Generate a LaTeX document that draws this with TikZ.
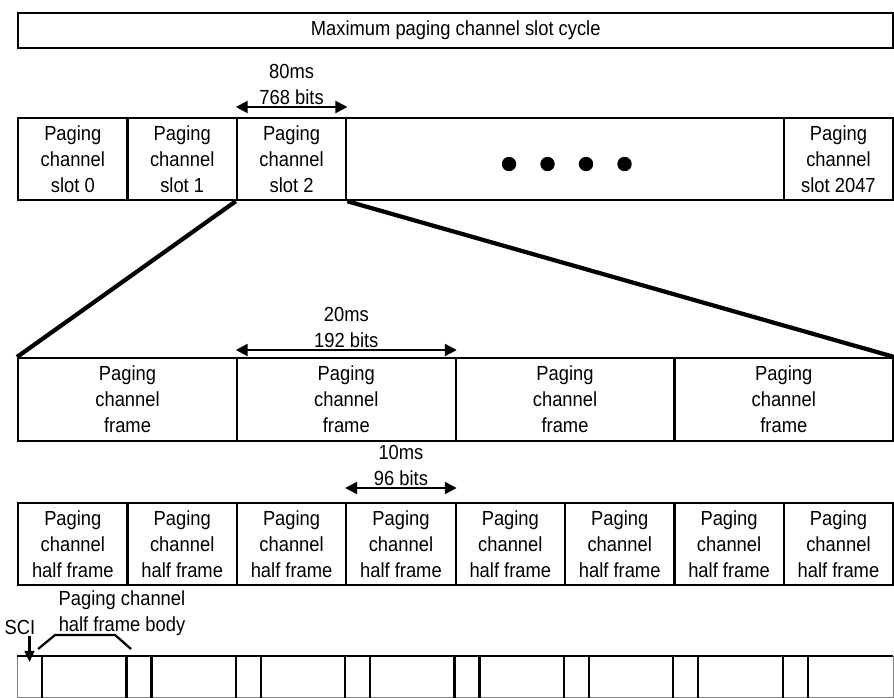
\documentclass[tikz,border=0pt]{standalone}
\usepackage{fontspec}
\setmainfont{Liberation Sans}[FakeStretch=0.9]
\usetikzlibrary{arrows.meta}

\newcommand\cellfont{\fontsize{14.5}{18.5}\selectfont}
\def\colw{2.734375cm}

\tikzset{
  cell/.style={draw, line width=1.6pt, minimum width=\colw, minimum height=2.05cm,
    inner sep=0pt, align=center, anchor=north west, font=\cellfont},
  lbl/.style={inner sep=1pt, align=center, font=\cellfont},
  dim/.style={line width=1.6pt, {Triangle[length=8.5pt,width=8.5pt]}-{Triangle[length=8.5pt,width=8.5pt]}},
  pointer/.style={line width=1.6pt, -{Triangle[length=8pt,width=7pt]}},
  fan/.style={line width=3pt},
  sep/.style={line width=1.6pt},
  slice/.style={inner sep=0pt, minimum height=1.025cm, anchor=north west}
}

\begin{document}
\begin{tikzpicture}[x=0.025cm, y=-0.025cm]
\useasboundingbox (0,0) rectangle (894,697);

% slot cycle
\node[cell, minimum width=21.875cm, minimum height=0.875cm] (cyclebox) at (17,12) {Maximum paging channel slot cycle};

% slots
\foreach \i/\txt in {0/slot 0, 1/slot 1, 2/slot 2}
  \node[cell] (slot\i) at ({17+109.375*\i},117) {Paging\\channel\\\txt};
\node[cell, minimum width=10.9375cm] (slotdots) at (345.125,117) {};
\node[cell] (slotlast) at (782.625,117) {Paging\\channel\\slot 2047};
\foreach \k in {0,...,3}
  \fill ({509+38.5*\k},164) circle (0.18cm);

\draw[dim] ([yshift=0.25cm]slot2.north west) -- ([yshift=0.25cm]slot2.north east)
  node[midway, above, lbl] {80ms\\768 bits};

% frames
\foreach \i in {0,...,3}
  \node[cell, minimum width=5.46875cm, minimum height=2.075cm] (frame\i) at ({17+218.75*\i},357) {Paging\\channel\\frame};
\draw[fan] (slot2.south west) -- (frame0.north west);
\draw[fan] (slot2.south east) -- (frame3.north east);

\draw[dim] ([yshift=0.175cm]frame1.north west) -- ([yshift=0.175cm]frame1.north east)
  node[midway, above, lbl] {20ms\\192 bits};

% half frames
\foreach \i in {0,...,7}
  \node[cell] (half\i) at ({17+109.375*\i},502) {Paging\\channel\\half frame};

\draw[dim] ([yshift=0.35cm]half3.north west) -- ([yshift=0.35cm]half3.north east)
  node[midway, above, lbl] {10ms\\96 bits};

% half frame body row
\foreach \i in {0,...,7} {
  \node[slice, minimum width=0.6125cm] (sci\i) at ({17+109.375*\i},656) {};
  \node[slice, minimum width=2.121875cm] (body\i) at (sci\i.north east) {};
}
\draw[gray, line width=0.6pt] (sci0.north west) rectangle (body7.south east);
\draw[sep] (sci0.north west) -- (body7.north east);
\foreach \i in {0,...,7}
  \draw[sep] (sci\i.north east) -- (sci\i.south east);
\foreach \i in {1,...,7}
  \draw[sep] (sci\i.north west) -- (sci\i.south west);

\node[lbl] (scilbl) at (20,627) {SCI};
\draw[pointer] (sci0.north |- scilbl.south) -- ([yshift=-0.15cm]sci0.north);

\node[lbl] (bodylbl) at (122,613) {Paging channel\\half frame body};
\draw[sep] ([xshift=-0.1cm, yshift=0.175cm]body0.north west) -- ++(17,-14) -- ++(60,0) -- ++(16,14);
\end{tikzpicture}
\end{document}
